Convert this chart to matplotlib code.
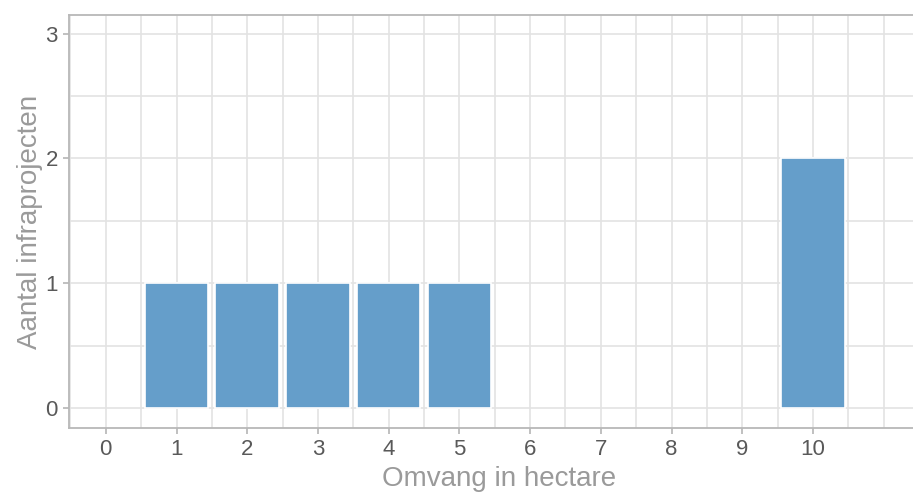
import matplotlib.pyplot as plt
import numpy as np

# Omvang in hectare vs aantal infraprojecten
categories = [1, 2, 3, 4, 5, 10]
counts = [1, 1, 1, 1, 1, 2]
x_ticks = list(range(0, 11))
y_ticks = [0, 1, 2, 3]

plt.rcParams['font.family'] = ['Liberation Sans', 'DejaVu Sans']

fig = plt.figure(figsize=(9.13, 4.93), dpi=100)
# axes runs a little past the right edge, as in the original crop
ax = fig.add_axes([69 / 913, 1 - 428 / 493, 860 / 913, 413 / 493])

ax.bar(categories, counts, width=0.9, color='#659ECA', edgecolor='white',
       linewidth=1.2, zorder=3)

ax.set_xlim(-0.52, 11.64)
ax.set_ylim(-0.16, 3.15)

ax.set_xticks(x_ticks)
ax.set_yticks(y_ticks)
ax.set_xticks(np.arange(-0.5, 12, 0.5), minor=True)
ax.set_yticks([0.5, 1.5, 2.5], minor=True)
ax.tick_params(which='minor', length=0)
ax.tick_params(which='major', length=4, color='#b5b5b5', width=1.2,
               labelsize=16, labelcolor='#595959')
ax.tick_params(axis='x', pad=4)
ax.tick_params(axis='y', pad=4)

ax.grid(True, which='both', color='#e3e3e3', linewidth=1.2, zorder=0)
ax.set_axisbelow(True)

for side in ['left', 'bottom', 'top']:
    ax.spines[side].set_color('#b8b8b8')
    ax.spines[side].set_linewidth(1.3)
ax.spines['right'].set_visible(False)

# kept just inside the bottom edge so the label is not clipped
ax.set_xlabel('Omvang in hectare', fontsize=20, color='#9a9a9a', labelpad=4)
ax.set_ylabel('Aantal infraprojecten', fontsize=20, color='#9a9a9a', labelpad=2)

fig.savefig('out.png', dpi=100)
